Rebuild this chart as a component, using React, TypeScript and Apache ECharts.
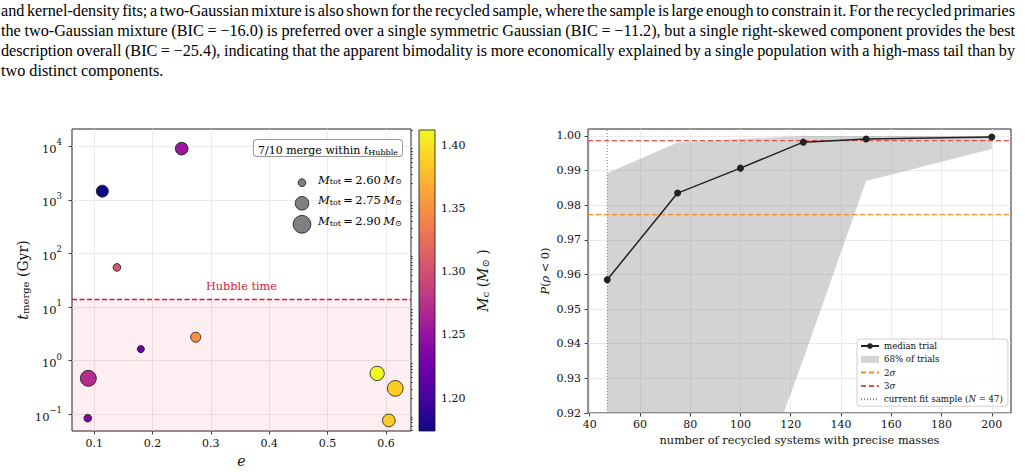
import React, { useEffect, useRef } from "react";
import * as echarts from "echarts";

// ---- Left panel: merger times of the double neutron star sample ----
const eccentricity = [0.114, 0.25, 0.139, 0.18, 0.274, 0.09, 0.089, 0.585, 0.616, 0.605];
const tMergeGyr = [1450, 9000, 55, 1.65, 2.75, 0.47, 0.085, 0.58, 0.305, 0.077];
const chirpMass = [1.174, 1.253, 1.305, 1.222, 1.35, 1.272, 1.235, 1.412, 1.388, 1.386];
const totalMass = [2.7, 2.72, 2.6, 2.59, 2.65, 2.83, 2.6, 2.77, 2.82, 2.72];
const sizeLegendMasses = [2.6, 2.75, 2.9];
const HUBBLE_TIME = 13.8;
const logTickValues = [0.1, 1, 10, 100, 1000, 10000];
const eTickValues = [0.1, 0.2, 0.3, 0.4, 0.5, 0.6];
const mcTickValues = [1.2, 1.25, 1.3, 1.35, 1.4];

// ---- Right panel: sensitivity of the correlation test to sample size ----
const nSystems = [47, 75, 100, 125, 150, 200];
const medianP = [0.9585, 0.9835, 0.9907, 0.9982, 0.9991, 0.9997];
const band16 = [0.8, 0.85, 0.886, 0.9355, 0.987, 0.9962];
const band84 = [0.9892, 0.9981, 0.9991, 1.0, 1.0, 1.0];
const P_2SIGMA = 0.97725;
const P_3SIGMA = 0.99865;
const N_CURRENT = 47;
const nTickValues = [40, 60, 80, 100, 120, 140, 160, 180, 200];
const pTickValues = [0.92, 0.93, 0.94, 0.95, 0.96, 0.97, 0.98, 0.99, 1.0];

const paragraphLines = [
  "and kernel-density fits; a two-Gaussian mixture is also shown for the recycled sample, where the sample is large enough to constrain it. For the recycled primaries",
  "the two-Gaussian mixture (BIC = \u221216.0) is preferred over a single symmetric Gaussian (BIC = \u221211.2), but a single right-skewed component provides the best",
  "description overall (BIC = \u221225.4), indicating that the apparent bimodality is more economically explained by a single population with a high-mass tail than by",
  "two distinct components.",
];

const PLASMA = [
  "#0d0887", "#41049d", "#6a00a8", "#8f0da4", "#b12a90", "#cc4778",
  "#e16462", "#f2844b", "#fca636", "#fcce25", "#f0f921",
];

const FONT = '"DejaVu Serif", serif';
const INK = "#111";
const CRIMSON = "#dc143c";

// axis limits
const E_MIN = 0.062, E_MAX = 0.643;
const T_MIN = Math.pow(10, -1.31), T_MAX = Math.pow(10, 4.32);
const N_MIN = 39.35, N_MAX = 207.65;
const P_MIN = 0.92, P_MAX = 1.002;

// marker area grows linearly with total mass
const markerDiameter = (m: number) => Math.sqrt(Math.max(59 + 847 * (m - 2.6), 16));

const mcMin = Math.min(...chirpMass);
const mcMax = Math.max(...chirpMass);

const minorLogTicks: number[] = [];
for (let k = -2; k <= 4; k++) {
  for (let m = 2; m <= 9; m++) {
    const v = m * Math.pow(10, k);
    if (v > T_MIN && v < T_MAX) minorLogTicks.push(v);
  }
}

const richMath = (size: number) => ({
  i: { fontFamily: FONT, fontStyle: "italic", fontSize: size, color: INK, lineHeight: size + 4, verticalAlign: "bottom" },
  r: { fontFamily: FONT, fontSize: size, color: INK, lineHeight: size + 4, verticalAlign: "bottom" },
  sub: { fontFamily: FONT, fontSize: Math.round(size * 0.7), color: INK, lineHeight: Math.round(size * 0.7) + 1, verticalAlign: "bottom" },
});

export default function App() {
  const ref = useRef<HTMLDivElement>(null);

  useEffect(() => {
    document.body.style.margin = "0";
    if (!ref.current) return;
    const chart = echarts.init(ref.current, undefined, { renderer: "svg" });

    const nMerging = tMergeGyr.filter((t) => t < HUBBLE_TIME).length;

    const tickStyle = { show: true, inside: false, length: 3.5, lineStyle: { color: INK, width: 0.8 } };
    const splitStyle = { show: true, lineStyle: { color: "#e6e6e6", width: 0.8 } };
    const labelBase = { fontFamily: FONT, color: INK };

    const option: any = {
      animation: false,
      backgroundColor: "#fff",
      grid: [
        { left: 72, top: 129, width: 339, height: 302, show: true, borderColor: "#222", borderWidth: 1, backgroundColor: "transparent", outerBoundsMode: "none" },
        { left: 419, top: 130, width: 16, height: 301, show: false, outerBoundsMode: "none" },
        { left: 588, top: 129, width: 423, height: 284, show: true, borderColor: "#222", borderWidth: 1, backgroundColor: "transparent", outerBoundsMode: "none" },
      ],
      xAxis: [
        {
          gridIndex: 0, type: "value", min: E_MIN, max: E_MAX, splitNumber: 5,
          axisLine: { show: false }, axisTick: { ...tickStyle, customValues: eTickValues },
          axisLabel: { ...labelBase, fontSize: 11, margin: 7, customValues: eTickValues, formatter: (v: number) => v.toFixed(1) },
          splitLine: splitStyle,
          name: "{i|e}", nameLocation: "middle", nameGap: 19,
          nameTextStyle: { rich: richMath(14) },
        },
        { gridIndex: 1, type: "value", min: 0, max: 1, show: false },
        {
          gridIndex: 2, type: "value", min: N_MIN, max: N_MAX, splitNumber: 8,
          axisLine: { show: false }, axisTick: { ...tickStyle, customValues: nTickValues },
          axisLabel: { ...labelBase, fontSize: 11, margin: 6, customValues: nTickValues },
          splitLine: splitStyle,
          name: "number of recycled systems with precise masses", nameLocation: "middle", nameGap: 21,
          nameTextStyle: { fontFamily: FONT, fontSize: 11.3, color: INK },
        },
      ],
      yAxis: [
        {
          gridIndex: 0, type: "log", logBase: 10, min: T_MIN, max: T_MAX,
          axisLine: { show: false }, axisTick: { ...tickStyle, customValues: logTickValues },
          axisLabel: {
            margin: 10, customValues: logTickValues,
            formatter: (v: number) => {
              const k = Math.round(Math.log10(v));
              return `{b|10}{s|${k < 0 ? "\u2212" + -k : k}}`;
            },
            rich: {
              b: { fontFamily: FONT, fontSize: 11.5, color: INK, lineHeight: 17, verticalAlign: "bottom" },
              s: { fontFamily: FONT, fontSize: 8.5, color: INK, lineHeight: 10, verticalAlign: "top" },
            },
          },
          splitLine: splitStyle,
          name: "{i|t}{sub|merge}{r| (Gyr)}", nameLocation: "middle", nameGap: 42, nameRotate: 90,
          nameTextStyle: { rich: richMath(14) },
        },
        {
          gridIndex: 1, type: "value", position: "right", min: mcMin, max: mcMax, splitNumber: 5,
          axisLine: { show: false }, axisTick: { ...tickStyle, customValues: mcTickValues },
          axisLabel: { ...labelBase, fontSize: 11, margin: 6, customValues: mcTickValues, formatter: (v: number) => v.toFixed(2) },
          splitLine: { show: false },
          name: "{i|M}{sub|c}{r| (}{i|M}{sub|\u2299}{r| )}", nameLocation: "middle", nameGap: 37, nameRotate: 90,
          nameTextStyle: { rich: richMath(14) },
        },
        {
          gridIndex: 2, type: "value", min: P_MIN, max: P_MAX, interval: 0.01,
          axisLine: { show: false }, axisTick: { ...tickStyle, customValues: pTickValues },
          axisLabel: { ...labelBase, fontSize: 11, margin: 7, customValues: pTickValues, formatter: (v: number) => v.toFixed(2) },
          splitLine: splitStyle,
          name: "{i|P}{r|(}{i|\u03c1}{r| < 0)}", nameLocation: "middle", nameGap: 37, nameRotate: 90,
          nameTextStyle: { rich: richMath(11.3) },
        },
        {
          // minor ticks of the log axis
          gridIndex: 0, type: "log", logBase: 10, min: T_MIN, max: T_MAX,
          axisLine: { show: false }, axisLabel: { show: false }, splitLine: { show: false },
          axisTick: { show: true, length: 2, customValues: minorLogTicks, lineStyle: { color: INK, width: 0.6 } },
        },
      ],
      visualMap: {
        type: "continuous", show: false, seriesIndex: 0, dimension: 2,
        min: mcMin, max: mcMax, inRange: { color: PLASMA },
      },
      legend: {
        orient: "vertical", left: 857, top: 339,
        itemWidth: 18, itemHeight: 7, itemGap: 3.3,
        padding: [2, 5, 2, 3],
        backgroundColor: "rgba(255,255,255,0.85)", borderColor: "#d0d0d0", borderWidth: 1, borderRadius: 3,
        textStyle: { fontFamily: FONT, fontSize: 8.6, color: INK, lineHeight: 10, rich: { i: { fontFamily: FONT, fontSize: 8.6, fontStyle: "italic", color: INK } } },
        formatter: (name: string) => name.replace("\u03c3", "{i|\u03c3}").replace("(N", "({i|N}"),
        data: [
          { name: "median trial" },
          { name: "68% of trials", icon: "rect" },
          { name: "2\u03c3" },
          { name: "3\u03c3" },
          { name: "current fit sample (N = 47)" },
        ],
        selectedMode: false,
      },
      graphic: [
        {
          type: "text", right: 1025 - 403, top: 139, z: 10,
          style: {
            text: `{r|${nMerging}/${tMergeGyr.length} merge within }{i|t}{sub|Hubble}`,
            rich: richMath(11),
            backgroundColor: "#fff", borderColor: "#999", borderWidth: 1, borderRadius: 3,
            padding: [1, 4, 0, 4],
          },
        },
        ...sizeLegendMasses.flatMap((m, k) => {
          const cy = [182.7, 203.3, 224.3][k];
          return [
            { type: "circle", shape: { cx: 302, cy, r: markerDiameter(m) / 2 }, style: { fill: "#808080", stroke: "#111", lineWidth: 0.8 }, z: 10 },
            {
              type: "text", left: 318, top: cy - 9, z: 10,
              style: {
                text: `{i|M}{sub|tot}{r|\u2009=\u2009${m.toFixed(2)}\u2009}{i|M}{sub|\u2299}`,
                rich: richMath(11.5),
              },
            },
          ];
        }),
      ],
      series: [
        {
          type: "scatter", xAxisIndex: 0, yAxisIndex: 0, z: 4,
          data: eccentricity.map((e, i) => [e, tMergeGyr[i], chirpMass[i], totalMass[i]]),
          symbolSize: (v: number[]) => markerDiameter(v[3]),
          itemStyle: { borderColor: "#111", borderWidth: 0.8, opacity: 1 },
        },
        {
          // Hubble-time threshold and the "merges in time" region below it
          type: "line", xAxisIndex: 0, yAxisIndex: 0, z: 3, symbol: "none",
          data: [[E_MIN, HUBBLE_TIME], [E_MAX, HUBBLE_TIME]],
          lineStyle: { color: CRIMSON, type: [5, 2.5], width: 1.5 }, itemStyle: { color: CRIMSON },
          markArea: {
            silent: true,
            itemStyle: { color: "rgba(220,20,60,0.07)" },
            data: [[{ yAxis: T_MIN }, { yAxis: HUBBLE_TIME }]],
          },
          markLine: {
            silent: true, symbol: "none",
            lineStyle: { color: "rgba(0,0,0,0)", width: 1 },
            label: { show: true, position: "insideMiddleTop", formatter: "Hubble time", color: CRIMSON, fontFamily: FONT, fontSize: 11.3, distance: 8 },
            data: [{ yAxis: HUBBLE_TIME }],
          },
        },
        {
          type: "custom", xAxisIndex: 1, yAxisIndex: 1, silent: true,
          data: [[0, mcMin, mcMax]],
          renderItem: (params: any, api: any) => {
            const top = api.coord([0, api.value(2)]);
            const bottom = api.coord([1, api.value(1)]);
            return {
              type: "rect",
              shape: { x: top[0], y: top[1], width: bottom[0] - top[0], height: bottom[1] - top[1] },
              style: {
                fill: new echarts.graphic.LinearGradient(0, 0, 0, 1,
                  PLASMA.slice().reverse().map((c, i) => ({ offset: i / (PLASMA.length - 1), color: c }))),
                stroke: "#111", lineWidth: 0.8,
              },
            };
          },
        },
        {
          type: "custom", name: "68% of trials", xAxisIndex: 2, yAxisIndex: 2, silent: true, z: 1,
          data: nSystems.map((n, i) => [n, band16[i], band84[i]]),
          itemStyle: { color: "rgba(128,128,128,0.35)" },
          renderItem: (params: any, api: any) => {
            if (params.dataIndex !== 0) return null;
            const upper = nSystems.map((n, i) => api.coord([n, band84[i]]));
            const lower = nSystems.map((n, i) => api.coord([n, band16[i]])).reverse();
            const cs = params.coordSys;
            return {
              type: "polygon",
              shape: { points: [...upper, ...lower] },
              style: { fill: "rgba(128,128,128,0.35)" },
              clipPath: { type: "rect", shape: { x: cs.x, y: cs.y, width: cs.width, height: cs.height } },
            };
          },
        },
        {
          type: "line", name: "2\u03c3", xAxisIndex: 2, yAxisIndex: 2, symbol: "none", z: 3,
          data: [[N_MIN, P_2SIGMA], [N_MAX, P_2SIGMA]],
          lineStyle: { color: "#ee8a2e", width: 1.3, type: [5, 3] }, itemStyle: { color: "rgba(0,0,0,0)" },
        },
        {
          type: "line", name: "3\u03c3", xAxisIndex: 2, yAxisIndex: 2, symbol: "none", z: 3,
          data: [[N_MIN, P_3SIGMA], [N_MAX, P_3SIGMA]],
          lineStyle: { color: "#d9534f", width: 1.3, type: [5, 3] }, itemStyle: { color: "rgba(0,0,0,0)" },
        },
        {
          type: "line", name: "current fit sample (N = 47)", xAxisIndex: 2, yAxisIndex: 2, symbol: "none", z: 3,
          data: [[N_CURRENT, P_MIN], [N_CURRENT, P_MAX]],
          lineStyle: { color: "#808080", width: 1, type: [1, 2] }, itemStyle: { color: "rgba(0,0,0,0)" },
        },
        {
          type: "line", name: "median trial", xAxisIndex: 2, yAxisIndex: 2, z: 5,
          data: nSystems.map((n, i) => [n, medianP[i]]),
          symbol: "circle", symbolSize: 7,
          lineStyle: { color: "#222", width: 1.5 }, itemStyle: { color: "#222" },
        },
      ],
    };

    chart.setOption(option);
    return () => chart.dispose();
  }, []);

  return (
    <div style={{ position: "relative", width: 1025, height: 472, overflow: "hidden", background: "#fff" }}>
      <div ref={ref} style={{ position: "absolute", left: 0, top: 0, width: 1025, height: 472 }} />
      <div
        style={{
          position: "absolute", left: 1, top: 1.2, width: 1014,
          fontFamily: '"Liberation Serif", "Times New Roman", serif', fontSize: 16.2, lineHeight: "20px", color: "#000",
          pointerEvents: "none",
        }}
      >
        {paragraphLines.map((line, i) => (
          <div
            key={i}
            style={{
              whiteSpace: "nowrap",
              textAlign: i < paragraphLines.length - 1 ? "justify" : "left",
              textAlignLast: i < paragraphLines.length - 1 ? "justify" : "left",
              wordSpacing: i < paragraphLines.length - 1 ? "-2px" : "0px",
            }}
          >
            {line}
          </div>
        ))}
      </div>
    </div>
  );
}
